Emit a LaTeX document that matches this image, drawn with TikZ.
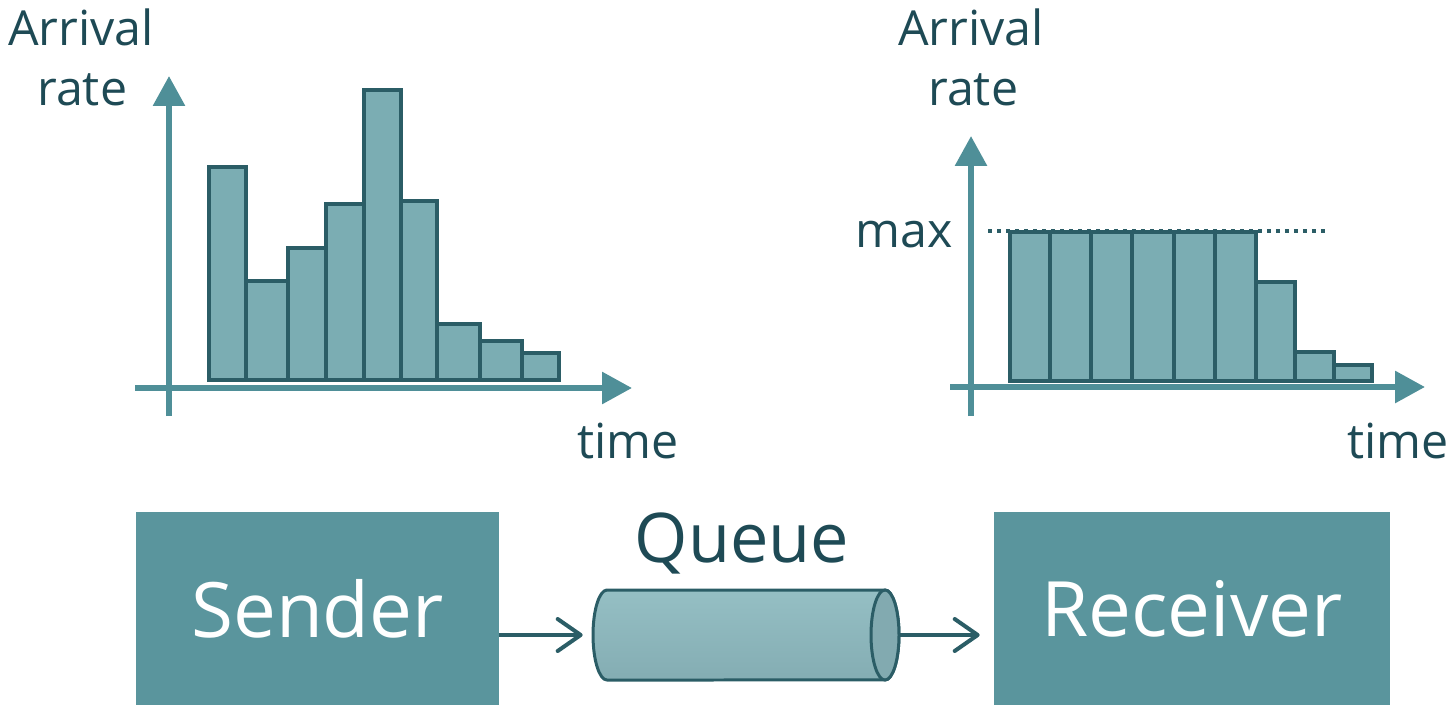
\documentclass[tikz,border=0pt]{standalone}
\usepackage{fontspec}
\setmainfont{Open Sans}
\usetikzlibrary{arrows.meta}
\definecolor{ink}{HTML}{1E4A55}
\definecolor{axis}{HTML}{4F8F98}
\definecolor{barfill}{HTML}{7BADB3}
\definecolor{barline}{HTML}{2B5D66}
\definecolor{boxfill}{HTML}{5A959D}
\definecolor{tubetop}{HTML}{95BFC4}
\definecolor{tubebot}{HTML}{84ADB3}
\definecolor{tubeend}{HTML}{82AAB0}

\begin{document}
\begin{tikzpicture}[x=0.02cm, y=-0.02cm,
	lbl/.style={font=\fontsize{27.5}{30}\selectfont, text=ink, inner sep=0pt},
	ax/.style={draw=axis, line width=0.12cm, -{Triangle[width=0.62cm, length=0.6cm]}},
	bar/.style={fill=barfill, draw=barline, line width=0.07cm},
	box/.style={fill=boxfill, text=white, minimum width=7.26cm, minimum height=3.86cm,
		inner sep=0pt, font=\fontsize{43.5}{48}\selectfont},
	tube/.style={draw=barline, line width=0.06cm},
	flow/.style={draw=barline, line width=0.08cm, -{Straight Barb[length=0.46cm, width=0.64cm, line width=0.08cm, round]}}]
\useasboundingbox (0,0) rectangle (1456,716);

% left chart
\node[lbl, anchor=base west] (a1) at (8,46) {Arrival};
\node[lbl, anchor=base west] (r1) at (37,106) {rate};
\node[lbl, anchor=base west] (t1) at (577,458) {time};
\foreach \x/\w/\h in {209/246/167, 246/288/281, 288/326/248, 326/364/204, 364/401/90,
	401/437/201, 437/480/324, 480/522/341, 522/559/353}
	\draw[bar] (\x,380) rectangle (\w,\h);
\coordinate (y1a) at (169,416);
\coordinate (y1b) at (169,76);
\coordinate (x1a) at (135,388);
\coordinate (x1b) at (632,388);
\draw[ax] (y1a) -- (y1b);
\draw[ax] (x1a) -- (x1b);

% right chart
\node[lbl, anchor=base west] (a2) at (898,46) {Arrival};
\node[lbl, anchor=base west] (r2) at (928,106) {rate};
\node[lbl, anchor=base west] (t2) at (1347,458) {time};
\node[lbl, anchor=base west] (m) at (855,247) {max};
\foreach \x/\w/\h in {1010/1050/232, 1050/1091/232, 1091/1132/232, 1132/1174/232,
	1174/1215/232, 1215/1256/232, 1256/1295/282, 1295/1334/352, 1334/1372/365}
	\draw[bar] (\x,381) rectangle (\w,\h);
\coordinate (ma) at (988,231);
\coordinate (mb) at (1325,231);
\draw[barline, line width=0.08cm, dash pattern=on 0.08cm off 0.1cm] (ma) -- (mb);
\coordinate (y2a) at (971,416);
\coordinate (y2b) at (971,136);
\coordinate (x2a) at (950,387);
\coordinate (x2b) at (1425,387);
\draw[ax] (y2a) -- (y2b);
\draw[ax] (x2a) -- (x2b);

% sender -> queue -> receiver
\node[box] (s) at (317.5,608.5) {Sender};
\node[box, minimum width=7.92cm] (r) at (1192,608.5) {Receiver};
\node[minimum width=6.12cm, minimum height=1.8cm, inner sep=0pt] (q) at (746,635) {};
\shade[top color=tubetop, bottom color=tubebot] (607,590) -- (885,590)
	arc[start angle=90, end angle=-90, x radius=0.28cm, y radius=0.9cm] -- (607,680)
	arc[start angle=270, end angle=90, x radius=0.28cm, y radius=0.9cm] -- cycle;
\draw[tube] (607,590) -- (885,590)
	arc[start angle=90, end angle=-90, x radius=0.28cm, y radius=0.9cm] -- (607,680)
	arc[start angle=270, end angle=90, x radius=0.28cm, y radius=0.9cm] -- cycle;
\draw[tube, fill=tubeend] (885,635) ellipse [x radius=0.28cm, y radius=0.9cm];
\node[font=\fontsize{39}{44}\selectfont, text=ink, inner sep=0pt, anchor=base] (ql) at (742,562) {Queue};
\draw[flow, shorten >=0.2cm] (s.east |- q.west) -- (q.west);
\draw[flow, shorten >=0.28cm] (q.east) -- (r.west |- q.east);
\end{tikzpicture}
\end{document}
